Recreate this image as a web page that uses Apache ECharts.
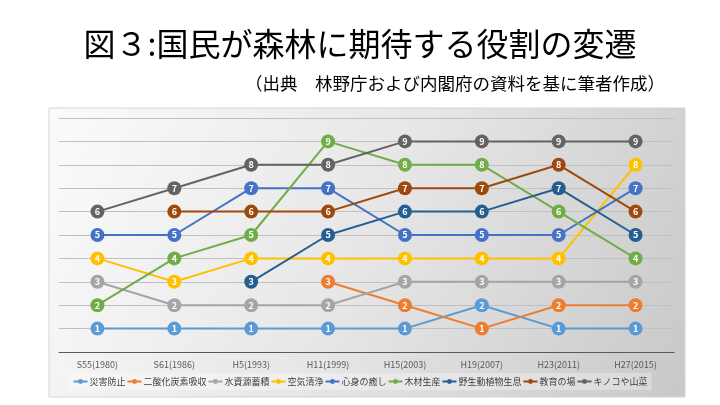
<!DOCTYPE html>
<html>
<head>
<meta charset="utf-8">
<script src="https://cdn.jsdelivr.net/npm/echarts@6/dist/echarts.min.js"></script>
<style>
  html, body { margin: 0; padding: 0; background: #fff; }
  #main { width: 720px; height: 405px; }
</style>
</head>
<body>
<div id="main"></div>
<script>
// 調査年
var years = ['S55(1980)', 'S61(1986)', 'H5(1993)', 'H11(1999)', 'H15(2003)', 'H19(2007)', 'H23(2011)', 'H27(2015)'];

// 各役割の順位 ('-' = 調査項目なし)
var saigai   = [1, 1, 1, 1, 1, 2, 1, 1];
var co2      = ['-', '-', '-', 3, 2, 1, 2, 2];
var mizu     = [3, 2, 2, 2, 3, 3, 3, 3];
var kuuki    = [4, 3, 4, 4, 4, 4, 4, 8];
var shinshin = [5, 5, 7, 7, 5, 5, 5, 7];
var mokuzai  = [2, 4, 5, 9, 8, 8, 6, 4];
var yasei    = ['-', '-', 3, 5, 6, 6, 7, 5];
var kyouiku  = ['-', 6, 6, 6, 7, 7, 8, 6];
var kinoko   = [6, 7, 8, 8, 9, 9, 9, 9];

var names = ['災害防止', '二酸化炭素吸収', '水資源蓄積', '空気清浄', '心身の癒し', '木材生産', '野生動植物生息', '教育の場', 'キノコや山菜'];
var colors = ['#5B9BD5', '#ED7D31', '#A5A5A5', '#FFC000', '#4472C4', '#70AD47', '#255E91', '#9E480E', '#636363'];
var ranks = [saigai, co2, mizu, kuuki, shinshin, mokuzai, yasei, kyouiku, kinoko];

var FONT = '"Noto Sans CJK JP", "Noto Sans", sans-serif';

var chart = echarts.init(document.getElementById('main'));

var series = names.map(function (n, i) {
	return {
		name: n,
		type: 'line',
		data: ranks[i],
		color: colors[i],
		symbol: 'circle',
		symbolSize: 14,
		lineStyle: { width: 2 },
		label: {
			show: true,
			position: 'inside',
			color: '#fff',
			fontSize: 9,
			fontWeight: 'bold',
			fontFamily: FONT
		},
		emphasis: { disabled: true }
	};
});

var option = {
	animation: false,
	textStyle: { fontFamily: FONT },
	title: [{
		text: '図３:国民が森林に期待する役割の変遷',
		left: 'center',
		top: 23,
		textStyle: { fontSize: 32, fontWeight: 'normal', color: '#000', fontFamily: FONT }
	}, {
		text: '（出典　林野庁および内閣府の資料を基に筆者作成）',
		right: 50,
		top: 70,
		textStyle: { fontSize: 17.5, fontWeight: 'normal', color: '#000', fontFamily: FONT }
	}],
	//グラフ枠の背景
	graphic: [{
		type: 'rect',
		z: -10,
		shape: { x: 49, y: 108, width: 636, height: 289 },
		style: {
			fill: new echarts.graphic.LinearGradient(0, 0, 1, 1, [
				{ offset: 0, color: '#fbfbfb' },
				{ offset: 0.5, color: '#e6e6e6' },
				{ offset: 1, color: '#c8c8c8' }
			]),
			stroke: '#d4d4d4',
			lineWidth: 1
		}
	}],
	grid: { left: 59, right: 46, top: 118, bottom: 53 },
	xAxis: {
		type: 'category',
		data: years,
		boundaryGap: true,
		axisLine: { lineStyle: { color: '#595959', width: 1 } },
		axisTick: { show: false },
		axisLabel: { color: '#595959', fontSize: 9, margin: 8 }
	},
	yAxis: {
		type: 'value',
		min: 0,
		max: 10,
		interval: 1,
		axisLabel: { show: false },
		axisLine: { show: false },
		axisTick: { show: false },
		splitLine: { lineStyle: { color: '#c0c0c0', width: 1 } }
	},
	legend: {
		data: names,
		left: 'center',
		top: 373,
		itemWidth: 14,
		itemHeight: 6,
		itemGap: 1,
		padding: [4, 4],
		backgroundColor: 'rgba(255,255,255,0.3)',
		textStyle: { fontSize: 9, color: '#404040', padding: [0, 0, 0, -3] }
	},
	series: series
};

chart.setOption(option);
</script>
</body>
</html>
